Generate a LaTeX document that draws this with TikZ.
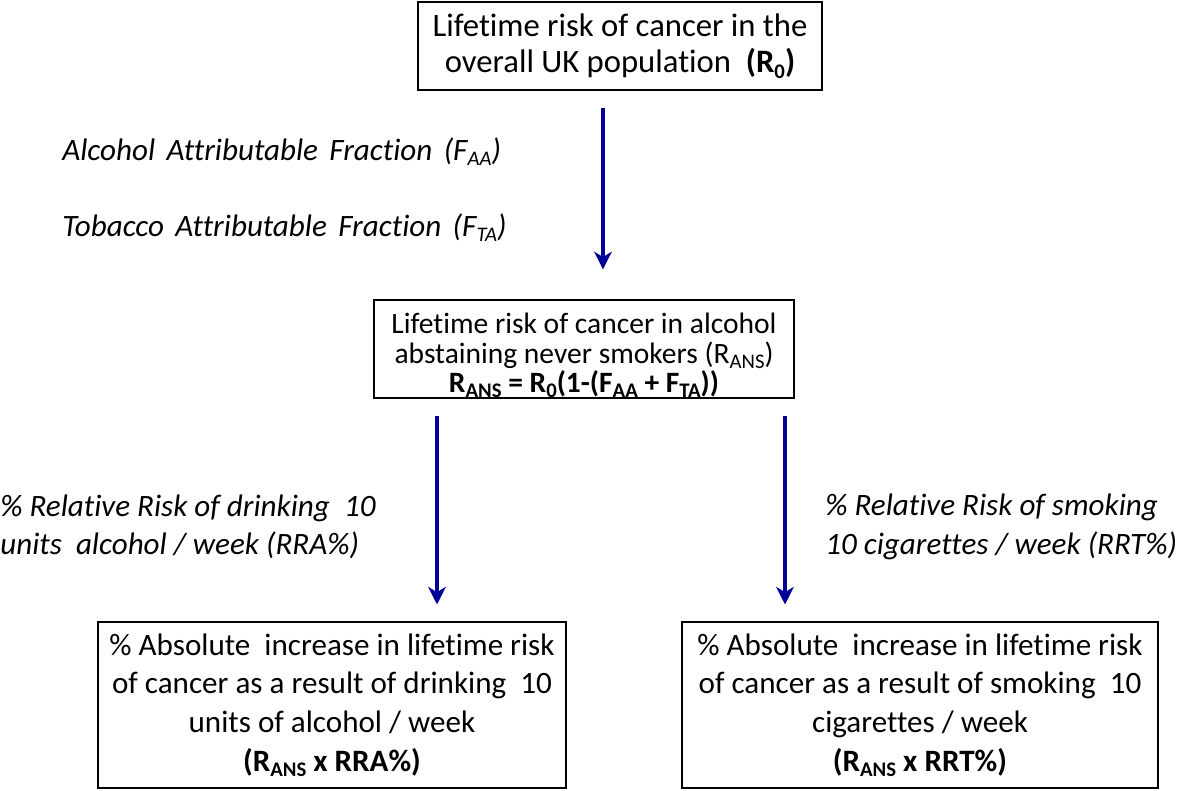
\documentclass[tikz,border=0pt]{standalone}
\usepackage{fontspec}
\setmainfont{Carlito}[RawFeature={-liga;-clig;-dlig}]
\usetikzlibrary{arrows.meta}
\definecolor{arrowblue}{RGB}{0,0,153}
\newcommand\lo[1]{\raisebox{-0.35ex}{\fontsize{11.8}{11.8}\selectfont #1}}
\newcommand\wsp{\ \hspace{2.5pt}}
\begin{document}
\begin{tikzpicture}[x=0.02cm,y=-0.02cm,
  box/.style={draw=black,line width=1.1pt,align=center,inner sep=0pt,font=\fontsize{17.7}{22}\selectfont},
  arr/.style={draw=arrowblue,line width=2.3pt,-{Stealth[length=10pt,width=10pt,inset=3pt]}},
  lab/.style={font=\fontsize{17.7}{22}\selectfont\itshape,align=left,inner sep=0pt}]
\useasboundingbox (0,0) rectangle (1181,791);
\node[box,minimum width=230.2pt,minimum height=50.5pt,font=\fontsize{18.6}{21}\selectfont] (top) at (620,46)
  {Lifetime risk of cancer in the\\overall UK population\ \ \textbf{(R\lo{0})}};
\node[box,minimum width=239.3pt,minimum height=55.6pt,font=\fontsize{16.8}{17.6}\selectfont] (mid) at (584,349)
  {\rule{0pt}{18.5pt}Lifetime risk of cancer in alcohol\\abstaining never smokers (R\lo{ANS})\\[-1.5pt]\textbf{R\lo{ANS} = R\lo{0}(1-(F\lo{AA} + F\lo{TA}))}};
\node[box,minimum width=266pt,minimum height=94.1pt] (bl) at (332,705)
  {\% Absolute\ \ increase in lifetime risk\\of cancer as a result of drinking\ \ 10\\units of alcohol / week\\\textbf{(R\lo{ANS} x RRA\%)}};
\node[box,minimum width=271pt,minimum height=94.1pt] (br) at (920,705)
  {\% Absolute\ \ increase in lifetime risk\\of cancer as a result of smoking\ \ 10\\cigarettes / week\\\textbf{(R\lo{ANS} x RRT\%)}};
\node[lab,anchor=base west] (faa) at (62,160) {Alcohol\wsp Attributable\wsp Fraction\wsp (F\lo{AA})};
\node[lab,anchor=base west] (fta) at (62,236) {Tobacco\wsp Attributable\wsp Fraction\wsp (F\lo{TA})};
\node[lab,anchor=west] (rra) at (0,527) {\% Relative Risk of drinking\ \ 10\\units\ \ alcohol / week (RRA\%)};
\node[lab,anchor=west] (rrt) at (825,527) {\% Relative Risk of smoking\\10 cigarettes / week (RRT\%)};
\coordinate (c1) at (603,0);
\coordinate (c2) at (437,0);
\coordinate (c3) at (785,0);
\draw[arr,shorten <=9.6pt,shorten >=17pt] (top.south -| c1) -- (mid.north -| c1);
\draw[arr,shorten <=9.6pt,shorten >=9.6pt] (mid.south -| c2) -- (bl.north -| c2);
\draw[arr,shorten <=9.6pt,shorten >=9.6pt] (mid.south -| c3) -- (br.north -| c3);
\end{tikzpicture}
\end{document}
